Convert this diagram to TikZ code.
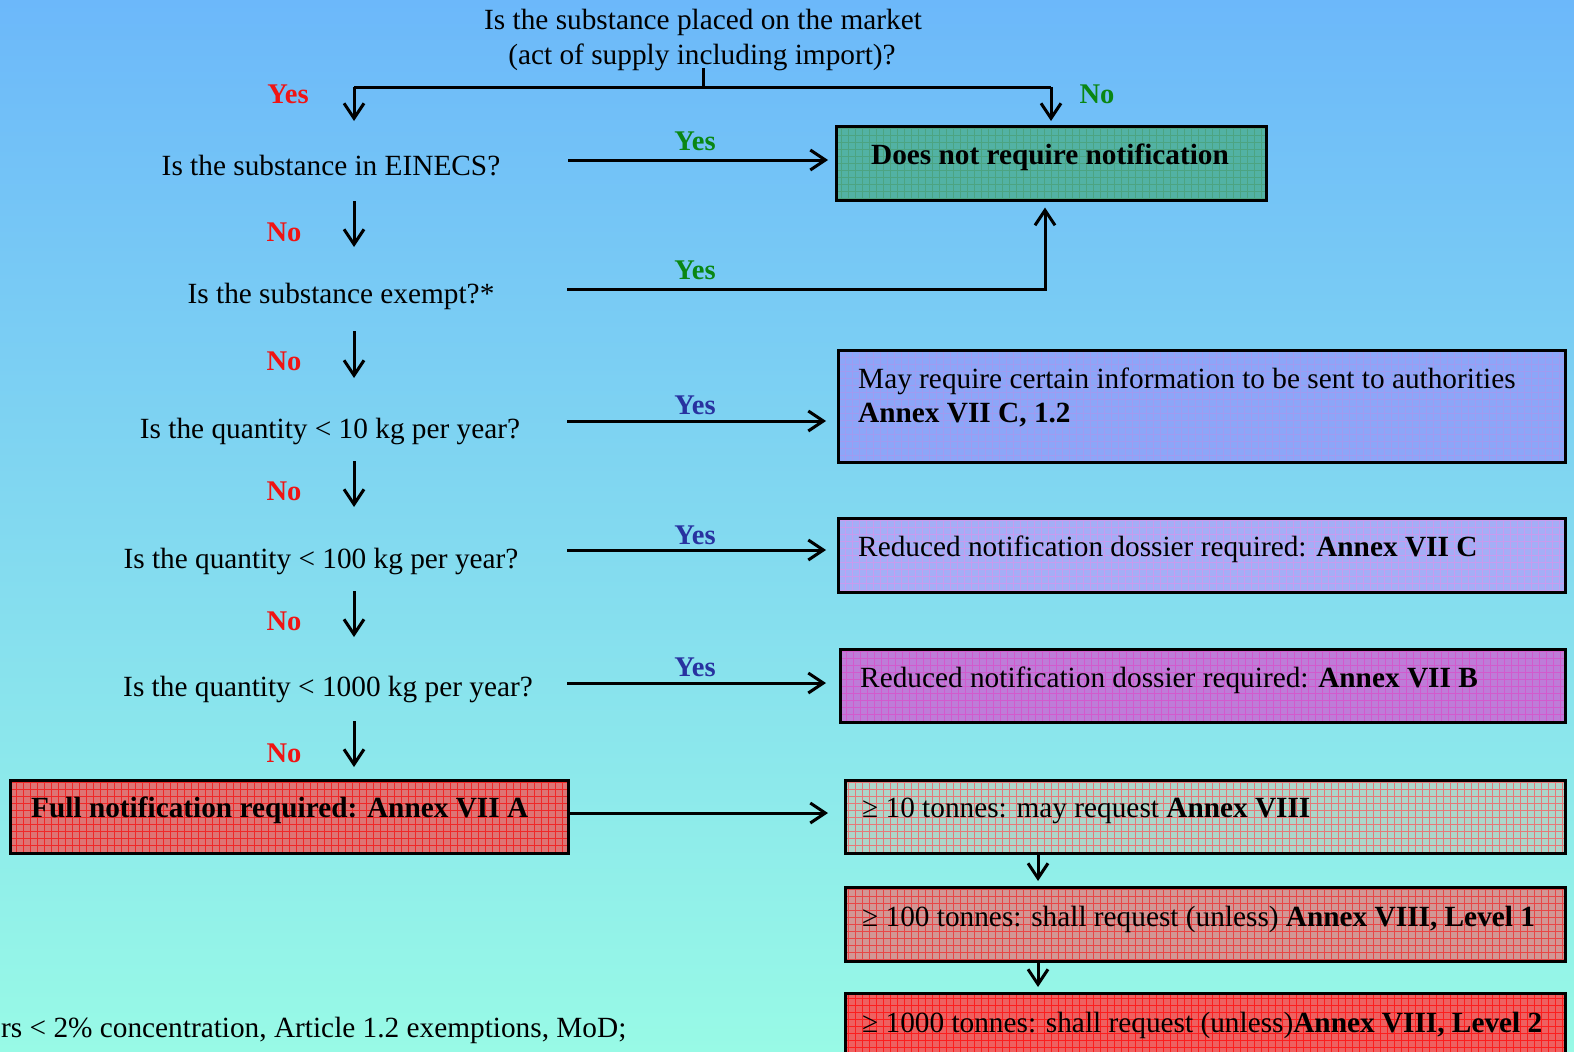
\documentclass[tikz,border=0pt]{standalone}
\usepackage{fontspec}
\setmainfont{Liberation Serif}
\usetikzlibrary{arrows.meta}
\definecolor{bgtop}{RGB}{108,184,250}
\definecolor{bgmid}{RGB}{134,228,242}
\definecolor{bgbot}{RGB}{152,250,230}
\definecolor{lred}{RGB}{240,20,20}
\definecolor{lgreen}{RGB}{10,135,20}
\definecolor{lblue}{RGB}{40,50,160}
\definecolor{f1}{RGB}{82,178,164}\definecolor{g1}{RGB}{76,164,130}
\definecolor{f2}{RGB}{140,166,248}\definecolor{g2}{RGB}{160,155,240}
\definecolor{f3}{RGB}{164,174,246}\definecolor{g3}{RGB}{200,155,238}
\definecolor{f4}{RGB}{190,124,216}\definecolor{g4}{RGB}{210,90,205}
\definecolor{f5}{RGB}{222,116,116}\definecolor{g5}{RGB}{240,40,40}
\definecolor{f6}{RGB}{172,214,202}\definecolor{g6}{RGB}{230,120,120}
\definecolor{f7}{RGB}{210,150,148}\definecolor{g7}{RGB}{232,70,70}
\definecolor{f8}{RGB}{238,96,96}\definecolor{g8}{RGB}{252,30,30}
\tikzset{
  txt/.style={font=\fontsize{29.3}{35}\selectfont, inner sep=0pt, anchor=base},
  btxt/.style={font=\fontsize{29.3}{35}\selectfont\bfseries, inner sep=0pt, anchor=base},
  lab/.style={font=\fontsize{28.5}{33}\selectfont\bfseries, inner sep=0pt, anchor=base},
  arr/.style={line width=3pt, -{Straight Barb[length=15pt,width=20pt]}},
  ln/.style={line width=3pt},
  gbox/.style 2 args={draw=black, line width=2.6pt, fill=#1, inner sep=0pt,
    anchor=north west,
    path picture={\draw[#2, line width=0.5pt, step=7pt]
      (path picture bounding box.south west) grid (path picture bounding box.north east);}}
}
\begin{document}
\begin{tikzpicture}[x=1pt,y=-1pt]
\useasboundingbox (0,0) rectangle (1574,1052);
\clip (0,0) rectangle (1574,1052);
\shade[top color=bgtop, middle color=bgmid, bottom color=bgbot] (0,0) rectangle (1574,1052);

% boxes
\node[gbox={f1}{g1}, minimum width=430pt, minimum height=74pt] (b1) at (835,125) {};
\node[gbox={f2}{g2}, minimum width=727pt, minimum height=112pt] (b2) at (837,349) {};
\node[gbox={f3}{g3}, minimum width=727pt, minimum height=74pt] (b3) at (837,517) {};
\node[gbox={f4}{g4}, minimum width=725pt, minimum height=73pt] (b4) at (839,648) {};
\node[gbox={f5}{g5}, minimum width=558pt, minimum height=73pt] (b5) at (9,779) {};
\node[gbox={f6}{g6}, minimum width=720pt, minimum height=73pt] (b6) at (844,779) {};
\node[gbox={f7}{g7}, minimum width=720pt, minimum height=74pt] (b7) at (844,886) {};
\node[gbox={f8}{g8}, minimum width=720pt, minimum height=80pt] (b8) at (844,992) {};

% box texts
\node[btxt] (t1) at (1050,164) {Does not require notification};
\node[txt, anchor=base west] (t2a) at (858,388) {May require certain information to be sent to authorities};
\node[txt, anchor=base west] (t2b) at (858,422) {\textbf{Annex VII C, 1.2}};
\node[txt, anchor=base west] (t3) at (858,556) {Reduced notification dossier required: \textbf{Annex VII C}};
\node[txt, anchor=base west] (t4) at (860,687) {Reduced notification dossier required: \textbf{Annex VII B}};
\node[btxt, anchor=base west] (t5) at (31,817) {Full notification required: Annex VII A};
\node[txt, anchor=base west] (t6) at (862,817) {≥ 10 tonnes: may request \textbf{Annex VIII}};
\node[txt, anchor=base west] (t7) at (862,926) {≥ 100 tonnes: shall request (unless) \textbf{Annex VIII, Level 1}};
\node[txt, anchor=base west] (t8) at (862,1032) {≥ 1000 tonnes: shall request (unless)\textbf{Annex VIII, Level 2}};

% questions
\node[txt] (q0a) at (703,29) {Is the substance placed on the market};
\node[txt] (q0b) at (702,64) {(act of supply including import)?};
\node[txt] (q1) at (331,175) {Is the substance in EINECS?};
\node[txt] (q2) at (341,303) {Is the substance exempt?*};
\node[txt] (q3) at (330,438) {Is the quantity < 10 kg per year?};
\node[txt] (q4) at (321,568) {Is the quantity < 100 kg per year?};
\node[txt] (q5) at (328,696) {Is the quantity < 1000 kg per year?};
\node[txt, anchor=base west] (fn) at (1,1037) {rs < 2\% concentration, Article 1.2 exemptions, MoD;};

% labels
\node[lab, text=lred] (y0) at (288,103) {Yes};
\node[lab, text=lgreen] (n0) at (1097,103) {No};
\node[lab, text=lgreen] (y1) at (695,150) {Yes};
\node[lab, text=lgreen] (y2) at (695,279) {Yes};
\node[lab, text=lblue] (y3) at (695,414) {Yes};
\node[lab, text=lblue] (y4) at (695,544) {Yes};
\node[lab, text=lblue] (y5) at (695,676) {Yes};
\node[lab, text=lred] (n1) at (284,241) {No};
\node[lab, text=lred] (n2) at (284,370) {No};
\node[lab, text=lred] (n3) at (284,500) {No};
\node[lab, text=lred] (n4) at (284,630) {No};
\node[lab, text=lred] (n5) at (284,762) {No};

% connector coordinates
\coordinate (t0) at (703,68);
\coordinate (tl) at (354,87);
\coordinate (tr) at (1051,87);
\coordinate (s1) at (568,160);
\coordinate (s2) at (567,289);
\coordinate (u2) at (1045,289);
\coordinate (s3) at (567,421);
\coordinate (s4) at (567,550);
\coordinate (s5) at (567,683);
\coordinate (d1) at (354,201);
\coordinate (d2) at (354,331);
\coordinate (d3) at (354,461);
\coordinate (d4) at (354,591);
\coordinate (d5) at (354,721);
\coordinate (c6) at (1038,0);

% connectors
\draw[ln] (t0) -- (t0 |- tl);
\draw[ln] (tl) -- (tr);
\draw[arr] (tl) -- ++(0,34);
\draw[arr, shorten >=4pt] (tr) -- (tr |- b1.north);
\draw[arr, shorten >=7pt] (s1) -- (s1 -| b1.west);
\draw[arr, shorten >=6pt] (s2) -- (u2) -- (u2 |- b1.south);
\draw[arr, shorten >=11pt] (s3) -- (s3 -| b2.west);
\draw[arr, shorten >=11pt] (s4) -- (s4 -| b3.west);
\draw[arr, shorten >=13pt] (s5) -- (s5 -| b4.west);
\draw[arr, shorten >=16pt] (b5.east |- 0,813) -- (b6.west |- 0,813);
\draw[arr, shorten >=5pt] (c6 |- b6.south) -- (c6 |- b7.north);
\draw[arr, shorten >=5pt] (c6 |- b7.south) -- (c6 |- b8.north);
\draw[arr] (d1) -- ++(0,46);
\draw[arr] (d2) -- ++(0,47);
\draw[arr] (d3) -- ++(0,46);
\draw[arr] (d4) -- ++(0,46);
\draw[arr] (d5) -- ++(0,46);
\end{tikzpicture}
\end{document}
